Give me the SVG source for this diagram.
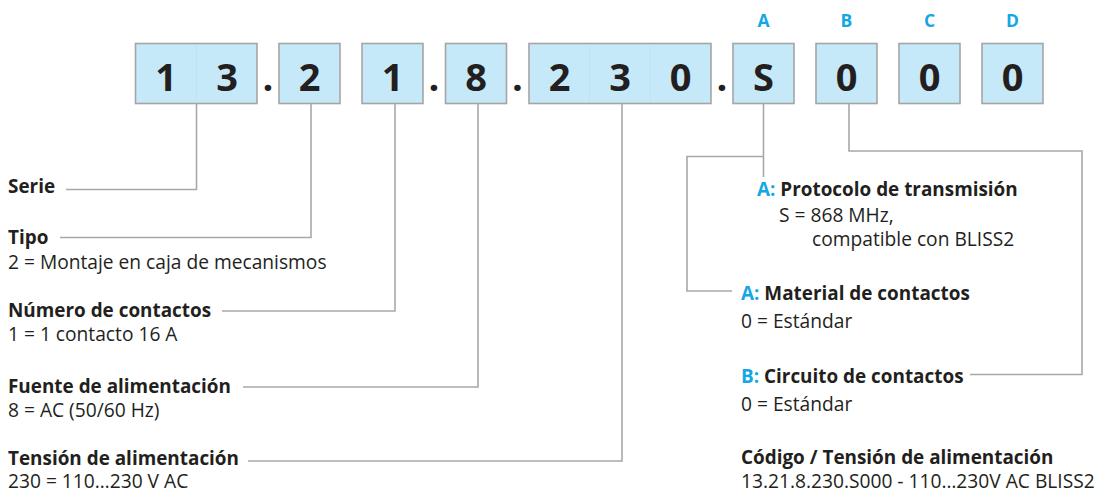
<svg xmlns="http://www.w3.org/2000/svg" width="1099" height="492" viewBox="0 0 1099 492">
<style>
.box{fill:#c6e9f9;stroke:#a5a5a5;stroke-width:1.6}
.div{stroke:#bddff0;stroke-width:0.8}
.dig{font-family:"Open Sans","Liberation Sans",sans-serif;font-weight:700;font-size:38px;fill:#231f20;text-anchor:middle}
.dot{font-family:"Open Sans","Liberation Sans",sans-serif;font-weight:700;font-size:38px;fill:#231f20;text-anchor:middle}
.let{font-family:"Open Sans","Liberation Sans",sans-serif;font-weight:700;font-size:17.5px;fill:#14a7e6;text-anchor:middle}
.h{font-family:"Open Sans","Liberation Sans",sans-serif;font-weight:700;font-size:18.9px;fill:#231f20}
.t{font-family:"Open Sans","Liberation Sans",sans-serif;font-weight:400;font-size:19.2px;fill:#231f20}
.b{fill:#14a7e6}
.ln{fill:none;stroke:#a8a8a8;stroke-width:1.6}
</style>
<g id="code">
<g id="box-13"><rect class="box" x="135.5" y="43.5" width="121.5" height="60"/><line class="div" x1="196.5" y1="44.5" x2="196.5" y2="102.5"/><text class="dig" x="166" y="91">1</text><text class="dig" x="227" y="91">3</text></g>
<text class="dot" x="268" y="91">.</text>
<g id="box-2"><rect class="box" x="279" y="43.5" width="61" height="60"/><text class="dig" x="309.5" y="91">2</text></g>
<g id="box-1"><rect class="box" x="362" y="43.5" width="61" height="60"/><text class="dig" x="392.5" y="91">1</text></g>
<text class="dot" x="434" y="91">.</text>
<g id="box-8"><rect class="box" x="445.5" y="43.5" width="61" height="60"/><text class="dig" x="476" y="91">8</text></g>
<text class="dot" x="517.5" y="91">.</text>
<g id="box-230"><rect class="box" x="529" y="43.5" width="182" height="60"/><line class="div" x1="589.5" y1="44.5" x2="589.5" y2="102.5"/><line class="div" x1="650" y1="44.5" x2="650" y2="102.5"/><text class="dig" x="559.5" y="91">2</text><text class="dig" x="620" y="91">3</text><text class="dig" x="680.5" y="91">0</text></g>
<text class="dot" x="722" y="91">.</text>
<g id="box-S"><rect class="box" x="733" y="43.5" width="61" height="60"/><text class="dig" x="763.5" y="91">S</text><text class="let" x="763.5" y="27">A</text></g>
<g id="box-B"><rect class="box" x="816" y="43.5" width="61" height="60"/><text class="dig" x="846.5" y="91">0</text><text class="let" x="846.5" y="27">B</text></g>
<g id="box-C"><rect class="box" x="899" y="43.5" width="61" height="60"/><text class="dig" x="929.5" y="91">0</text><text class="let" x="929.5" y="27">C</text></g>
<g id="box-D"><rect class="box" x="982" y="43.5" width="61" height="60"/><text class="dig" x="1012.5" y="91">0</text><text class="let" x="1012.5" y="27">D</text></g>
</g>
<g id="connectors">
<polyline class="ln" points="196.5,104 196.5,189.5 66,189.5"/>
<polyline class="ln" points="311,104 311,237.5 60,237.5"/>
<polyline class="ln" points="395,104 395,311 222,311"/>
<polyline class="ln" points="478,104 478,387 243,387"/>
<polyline class="ln" points="622,104 622,461 248,461"/>
<polyline class="ln" points="763.5,104 763.5,177"/>
<polyline class="ln" points="763.5,156.5 687,156.5 687,291 732,291"/>
<polyline class="ln" points="849,104 849,151 1082,151 1082,374.5 970,374.5"/>
</g>
<g id="label-serie"><text class="h" x="8" y="193">Serie</text></g>
<g id="label-tipo"><text class="h" x="8" y="243.5">Tipo</text><text class="t" x="8" y="268.5">2 = Montaje en caja de mecanismos</text></g>
<g id="label-numero"><text class="h" x="8" y="316.5">Número de contactos</text><text class="t" x="8" y="340.5">1 = 1 contacto 16 A</text></g>
<g id="label-fuente"><text class="h" x="8" y="392.5">Fuente de alimentación</text><text class="t" x="8" y="416.5">8 = AC (50/60 Hz)</text></g>
<g id="label-tension"><text class="h" x="8" y="465">Tensión de alimentación</text><text class="t" x="8" y="487.5">230 = 110…230 V AC</text></g>
<g id="label-protocolo"><text class="h" x="757" y="196"><tspan class="b">A:</tspan> Protocolo de transmisión</text><text class="t" x="779" y="222">S = 868 MHz,</text><text class="t" x="812" y="246">compatible con BLISS2</text></g>
<g id="label-material"><text class="h" x="741" y="300"><tspan class="b">A:</tspan> Material de contactos</text><text class="t" x="741" y="328">0 = Estándar</text></g>
<g id="label-circuito"><text class="h" x="741" y="383"><tspan class="b">B:</tspan> Circuito de contactos</text><text class="t" x="741" y="411">0 = Estándar</text></g>
<g id="label-codigo"><text class="h" x="741" y="464">Código / Tensión de alimentación</text><text class="t" x="741" y="487.5">13.21.8.230.S000 - 110…230V AC BLISS2</text></g>
</svg>
